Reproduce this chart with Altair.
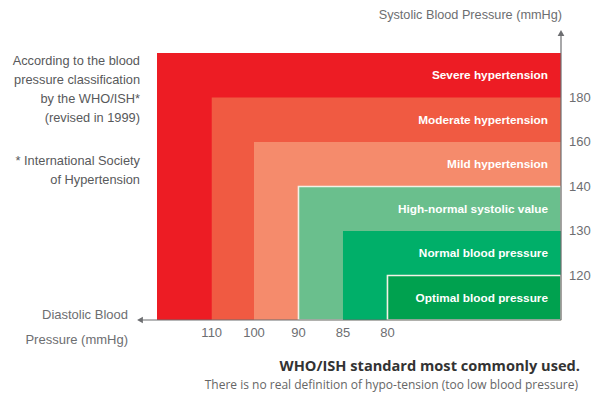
import altair as alt
import pandas as pd

# ---- data ----
categories = ["Severe hypertension", "Moderate hypertension", "Mild hypertension",
              "High-normal systolic value", "Normal blood pressure", "Optimal blood pressure"]
colors = ["#ED1C24", "#F05A42", "#F58B6C", "#6ABF8D", "#00AF69", "#00A14F"]
outlined = [0, 0, 0, 1, 0, 1]
# diastolic threshold labels and their slot on the (reversed) horizontal axis
diastolic_labels = ["", "110", "100", "90", "85", "80"]
diastolic_slot = [9.08, 7.85, 6.9, 5.9, 4.9, 3.9]
# systolic threshold labels and their slot on the vertical axis
systolic_labels = ["", "180", "160", "140", "130", "120"]
systolic_slot = [6, 5, 4, 3, 2, 1]

note_lines = ["According to the blood", "pressure classification", "by the WHO/ISH*", "(revised in 1999)"]
foot_lines = ["* International Society", "of Hypertension"]

COND = "Liberation Sans"
GRAY = "#6d6e71"
TXT = "#58595b"

zones = pd.DataFrame({
    "category": categories, "color": colors, "sw": [1.6 * o for o in outlined],
    "xs": diastolic_slot, "ys": systolic_slot,
    "ymid": [s - 0.5 for s in systolic_slot],
})
xticks = pd.DataFrame({"label": diastolic_labels[1:], "xs": diastolic_slot[1:]})
yticks = pd.DataFrame({"label": systolic_labels[1:], "ys": systolic_slot[1:]})

W, H = 404, 267
xs = alt.Scale(domain=[0, 9.08], reverse=True)
ys = alt.Scale(domain=[0, 6])

rects = alt.Chart(zones).mark_rect().encode(
    x=alt.X("xs:Q", scale=xs, axis=None), x2=alt.datum(0),
    y=alt.Y("ys:Q", scale=ys, axis=None), y2=alt.datum(0),
    fill=alt.Fill("color:N", scale=None),
    stroke=alt.value("#F4F1E6"),
    strokeWidth=alt.StrokeWidth("sw:Q", scale=None),
)

labels = alt.Chart(zones).mark_text(
    align="right", baseline="middle", font=COND, fontWeight="bold", fontSize=11.8, color="white"
).encode(x=alt.value(391), y=alt.Y("ymid:Q", scale=ys, axis=None), text="category:N")

xlab = alt.Chart(xticks).mark_text(
    align="center", baseline="middle", font=COND, fontSize=13, color=GRAY
).encode(x=alt.X("xs:Q", scale=xs, axis=None), y=alt.value(280), text="label:N")

ylab = alt.Chart(yticks).mark_text(
    align="left", baseline="middle", font=COND, fontSize=13, color=GRAY
).encode(x=alt.value(412), y=alt.Y("ys:Q", scale=ys, axis=None), text="label:N")

one = pd.DataFrame({"a": [0]})

vrule = alt.Chart(one).mark_rule(color=GRAY, strokeWidth=1.2).encode(
    x=alt.value(W), y=alt.value(H), y2=alt.value(-19))
vhead = alt.Chart(one).mark_point(shape="triangle-up", filled=True, color=GRAY, size=45, opacity=1).encode(
    x=alt.value(W), y=alt.value(-20))
hrule = alt.Chart(one).mark_rule(color=GRAY, strokeWidth=1.2).encode(
    x=alt.value(W), x2=alt.value(-16), y=alt.value(H))
hhead = alt.Chart(one).mark_point(shape="triangle-left", filled=True, color=GRAY, size=45, opacity=1).encode(
    x=alt.value(-17), y=alt.value(H))

ytitle = alt.Chart(one).mark_text(align="right", baseline="middle", font=COND, fontSize=12.7, color=GRAY).encode(
    x=alt.value(405), y=alt.value(-38), text=alt.value("Systolic Blood Pressure (mmHg)"))
xtitle = alt.Chart(one).mark_text(align="right", baseline="middle", font=COND, fontSize=13, color=GRAY,
                                  lineHeight=25).encode(
    x=alt.value(-29), y=alt.value(262), text=alt.value(["Diastolic Blood", "Pressure (mmHg)"]))

note = alt.Chart(one).mark_text(align="right", baseline="middle", font=COND, fontSize=12.8, color=TXT,
                                lineHeight=19).encode(
    x=alt.value(-17), y=alt.value(8), text=alt.value(note_lines))
foot = alt.Chart(one).mark_text(align="right", baseline="middle", font=COND, fontSize=12.8, color=TXT,
                                lineHeight=19).encode(
    x=alt.value(-17), y=alt.value(108), text=alt.value(foot_lines))

title = alt.Chart(one).mark_text(align="right", baseline="middle", font="Open Sans", fontWeight="bold",
                                 fontSize=14.6, color="#333333").encode(
    x=alt.value(423), y=alt.value(314), text=alt.value("WHO/ISH standard most commonly used."))
subtitle = alt.Chart(one).mark_text(align="right", baseline="middle", font="Open Sans", fontSize=12,
                                    color="#666666").encode(
    x=alt.value(421), y=alt.value(332),
    text=alt.value("There is no real definition of hypo-tension (too low blood pressure)"))

chart = alt.layer(
    rects, labels, xlab, ylab, hrule, vrule, vhead, hhead, ytitle, xtitle, note, foot, title, subtitle
).properties(
    width=W, height=H, autosize=alt.AutoSizeParams(type="none"),
    padding={"left": 157, "top": 53, "right": 39, "bottom": 82},
    background="white",
).configure_view(stroke=None)

chart.save("out.html", embed_options={"renderer": "svg", "actions": False})
